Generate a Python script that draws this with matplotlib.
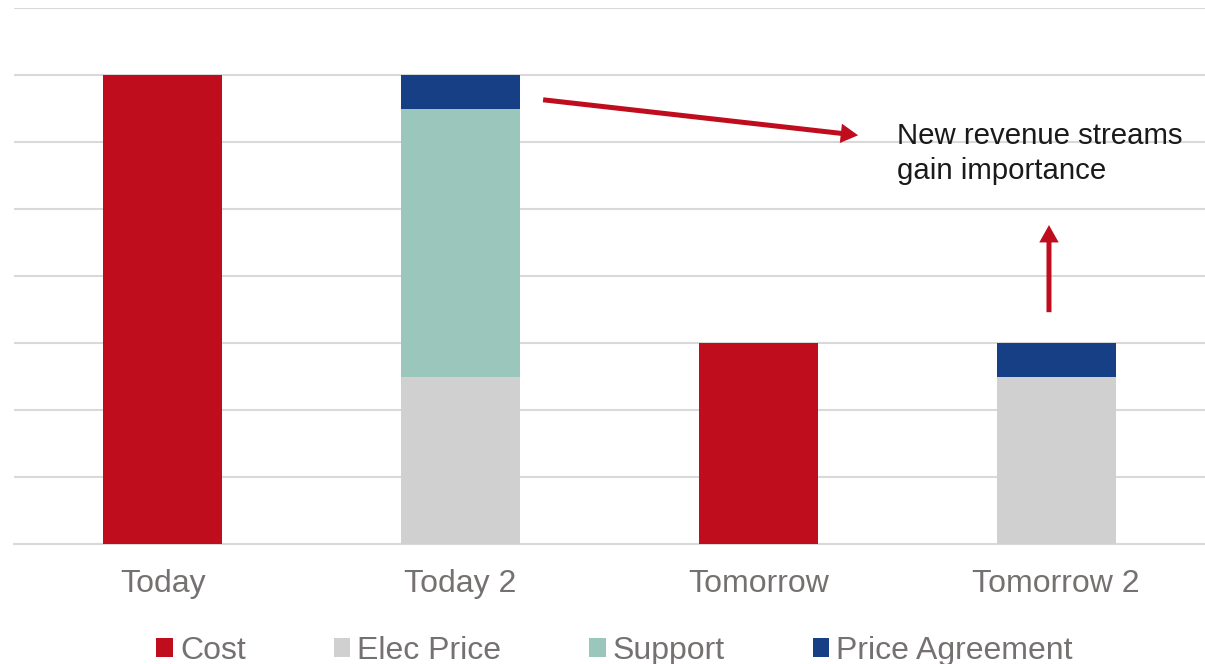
import matplotlib
matplotlib.use("Agg")
import matplotlib.pyplot as plt
import numpy as np

plt.rcParams['font.family'] = ['Liberation Sans', 'DejaVu Sans']

# categories and stacked series
categories = ["Today", "Today 2", "Tomorrow", "Tomorrow 2"]
cost = [7, 0, 3, 0]
elec_price = [0, 2.5, 0, 2.5]
support = [0, 4, 0, 0]
price_agreement = [0, 0.5, 0, 0.5]

colors = {
    "Cost": "#C00D1E",
    "Elec Price": "#D0D0D0",
    "Support": "#9BC6BC",
    "Price Agreement": "#173F85",
}
text_gray = "#767171"

fig = plt.figure(figsize=(12.05, 6.64), dpi=100)
ax = fig.add_axes([14 / 1205, 1 - 544 / 664, 1 - 14 / 1205, (544 - 8) / 664])

x = np.arange(len(categories))
w = 0.4
bottom = np.zeros(len(categories))
for name, vals in [("Cost", cost), ("Elec Price", elec_price),
                   ("Support", support), ("Price Agreement", price_agreement)]:
    ax.bar(x, vals, w, bottom=bottom, color=colors[name], label=name, zorder=3)
    bottom += np.array(vals)

ax.set_xlim(-0.5, 3.5)
ax.set_ylim(0, 8)
ax.set_yticks(np.arange(0, 9, 1))
ax.yaxis.grid(True, color="#D9D9D9", linewidth=1.5, zorder=0)
ax.tick_params(axis="y", left=False, labelleft=False)
ax.tick_params(axis="x", length=0, pad=18, labelsize=23, labelcolor=text_gray)
ax.set_xticks(x)
ax.set_xticklabels(categories)
for s in ["top", "right", "left"]:
    ax.spines[s].set_visible(False)
ax.spines["bottom"].set_color("#D9D9D9")
ax.spines["bottom"].set_linewidth(1.5)

# arrows and note
arrow = dict(arrowstyle="simple,head_length=12.5,head_width=14,tail_width=3.6",
             color="#C00D1E", lw=0, mutation_scale=1, shrinkA=0, shrinkB=0)
ax.annotate("", xy=(2.335, 6.10), xytext=(1.277, 6.63), arrowprops=arrow, zorder=5)
ax.annotate("", xy=(2.976, 4.76), xytext=(2.976, 3.46), arrowprops=arrow, zorder=5)
ax.text(2.466, 5.83, "New revenue streams\ngain importance", fontsize=21.2,
        color="#1A1A1A", va="center", ha="left", linespacing=1.35)

fig.legend(loc="center", bbox_to_anchor=(0.51, 0.02), ncol=4, frameon=False,
           fontsize=23, labelcolor=text_gray, handlelength=0.52, handleheight=0.52,
           handletextpad=0.22, columnspacing=2.75)

fig.savefig("out.png", dpi=100)
